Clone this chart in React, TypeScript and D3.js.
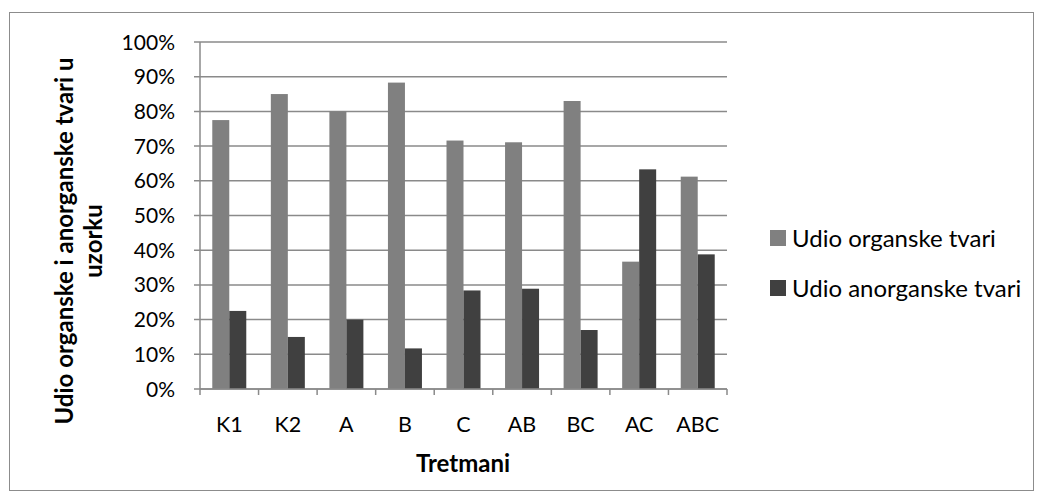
import React from "react";
import * as d3 from "d3";

const categories = ["K1", "K2", "A", "B", "C", "AB", "BC", "AC", "ABC"];
const organic = [77.5, 85.0, 80.0, 88.3, 71.6, 71.1, 83.0, 36.7, 61.2];
const inorganic = [22.5, 15.0, 20.0, 11.7, 28.4, 28.9, 17.0, 63.3, 38.8];
const seriesNames = ["Udio organske tvari", "Udio anorganske tvari"];
const yTicks = [0, 10, 20, 30, 40, 50, 60, 70, 80, 90, 100];

const colors = ["#808080", "#404040"];
const FONT = "Lato, 'Open Sans', sans-serif";

export default function App() {
  const W = 1043, H = 504;
  const left = 200, right = 727, top = 42, bottom = 389;
  const x = d3.scaleBand<string>().domain(categories).range([left, right]).paddingInner(0).paddingOuter(0);
  const y = d3.scaleLinear().domain([0, 100]).range([bottom, top]);
  const barW = 17;
  const series = [organic, inorganic];
  const grid = "#8a8a8a";

  return (
    <svg width={W} height={H} style={{ position: "absolute", left: 0, top: 0, background: "#fff" }}>
      <rect x={9.5} y={12.5} width={1024} height={478} fill="#fff" stroke="#8c8c8c" strokeWidth={1} />
      {yTicks.map((t) => (
        <g key={t}>
          <line x1={left - 6} x2={right} y1={y(t)} y2={y(t)} stroke={grid} strokeWidth={1.5} />
          <text x={175} y={y(t)} dy="0.36em" textAnchor="end" fontFamily={FONT} fontSize={21} fill="#000">
            {t}%
          </text>
        </g>
      ))}
      {series.map((vals, si) =>
        categories.map((c, i) => {
          const cx = (x(c) as number) + x.bandwidth() / 2;
          const bx = cx - barW + si * barW;
          return (
            <rect
              key={si + "-" + c}
              x={bx}
              y={y(vals[i])}
              width={barW}
              height={y(0) - y(vals[i])}
              fill={colors[si]}
            />
          );
        })
      )}
      <line x1={left} x2={left} y1={top} y2={bottom} stroke={grid} strokeWidth={1.5} />
      <line x1={left} x2={right} y1={bottom} y2={bottom} stroke={grid} strokeWidth={1.5} />
      {categories.concat(["_end"]).map((c, i) => {
        const xx = left + i * x.bandwidth();
        return <line key={"t" + i} x1={xx} x2={xx} y1={bottom} y2={bottom + 6} stroke={grid} strokeWidth={1.5} />;
      })}
      {categories.map((c) => (
        <text
          key={"l" + c}
          x={(x(c) as number) + x.bandwidth() / 2}
          y={432}
          textAnchor="middle"
          fontFamily={FONT}
          fontSize={21.5}
          fill="#000"
        >
          {c}
        </text>
      ))}
      <text x={463} y={472} textAnchor="middle" fontFamily={FONT} fontSize={24} fontWeight="bold" fill="#000">
        Tretmani
      </text>
      <g transform="translate(0,241) rotate(-90)">
        <text x={0} y={73} textAnchor="middle" fontFamily={FONT} fontSize={24} fontWeight="bold" fill="#000">
          Udio organske i anorganske tvari u
        </text>
        <text x={0} y={102} textAnchor="middle" fontFamily={FONT} fontSize={24} fontWeight="bold" fill="#000">
          uzorku
        </text>
      </g>
      {seriesNames.map((n, i) => (
        <g key={n} transform={`translate(770, ${238 + i * 50})`}>
          <rect x={0} y={-8} width={16} height={16} fill={colors[i]} />
          <text x={22} y={0} dy="0.36em" fontFamily={FONT} fontSize={24} fill="#000">
            {n}
          </text>
        </g>
      ))}
    </svg>
  );
}
